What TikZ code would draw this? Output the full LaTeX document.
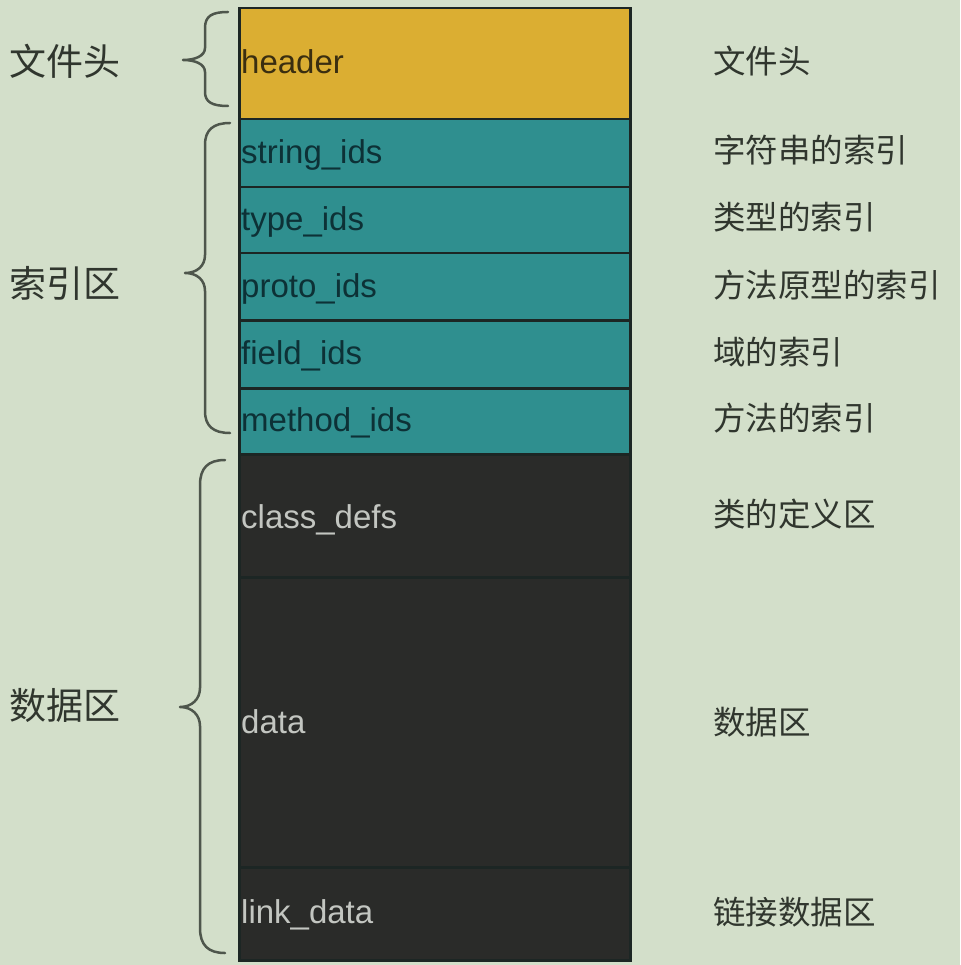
\documentclass[tikz,border=0pt]{standalone}
\usepackage{fontspec}
\setmainfont{Liberation Sans}
\newfontfamily\cjk{Noto Sans CJK SC}
\definecolor{bg}{HTML}{D3DFCA}
\definecolor{gold}{HTML}{DBAE32}
\definecolor{teal}{HTML}{2F8F8F}
\definecolor{darkc}{HTML}{2A2B29}
\definecolor{border}{HTML}{1C2624}
\definecolor{bracec}{HTML}{4E564C}
\definecolor{cjktext}{HTML}{30362E}
\definecolor{goldtext}{HTML}{3A2E10}
\definecolor{tealtext}{HTML}{0D3136}
\definecolor{darktext}{HTML}{C3C6C1}
\tikzset{
  rowbox/.style={draw=border, line width=2.5pt, inner sep=0pt, anchor=north west, minimum width=391pt},
  rowtext/.style={anchor=base west, inner sep=0pt, font=\fontsize{33}{36}\selectfont},
  leftlab/.style={anchor=base west, inner sep=0pt, text=cjktext, font=\cjk\fontsize{37}{40}\selectfont},
  rightlab/.style={anchor=base west, inner sep=0pt, text=cjktext, font=\cjk\fontsize{32.5}{36}\selectfont},
  bracepath/.style={draw=bracec, line width=2.5pt, line cap=round, line join=round}
}
\newcommand{\dexrow}[7]{%
  \node[rowbox, fill=#4, minimum height=#3pt-#2pt] (#1) at (238,#2) {};
  \node[rowtext, text=#6] (#1-t) at (241,#7) {#5};
}
\begin{document}
\begin{tikzpicture}[x=1pt,y=-1pt]
\fill[bg] (0,0) rectangle (960,965);
\useasboundingbox (0,0) rectangle (960,965);
% rows
\dexrow{header}{7}{118}{gold}{header}{goldtext}{74}
\dexrow{stringids}{118}{186}{teal}{string\_ids}{tealtext}{164}
\dexrow{typeids}{186}{252}{teal}{type\_ids}{tealtext}{231}
\dexrow{protoids}{252}{319}{teal}{proto\_ids}{tealtext}{298}
\dexrow{fieldids}{319}{387}{teal}{field\_ids}{tealtext}{364}
\dexrow{methodids}{387}{453}{teal}{method\_ids}{tealtext}{431}
\dexrow{classdefs}{453}{576}{darkc}{class\_defs}{darktext}{528}
\dexrow{data}{576}{866}{darkc}{data}{darktext}{733}
\dexrow{linkdata}{866}{959}{darkc}{link\_data}{darktext}{923}
% left labels
\node[leftlab] (l1) at (9,76) {文件头};
\node[leftlab] (l2) at (9,297) {索引区};
\node[leftlab] (l3) at (9,719) {数据区};
% right labels
\node[rightlab] (r1) at (713,74) {文件头};
\node[rightlab] (r2) at (713,163) {字符串的索引};
\node[rightlab] (r3) at (713,230) {类型的索引};
\node[rightlab] (r4) at (713,297) {方法原型的索引};
\node[rightlab] (r5) at (713,364) {域的索引};
\node[rightlab] (r6) at (713,430) {方法的索引};
\node[rightlab] (r7) at (713,526) {类的定义区};
\node[rightlab] (r8) at (713,734) {数据区};
\node[rightlab] (r9) at (713,924) {链接数据区};
% braces
\draw[bracepath] (228,12) .. controls (212,12) and (205,16) .. (205,28) -- (205,48)
  .. controls (205,56) and (195,60) .. (183,60)
  .. controls (195,60) and (205,64) .. (205,72) -- (205,92)
  .. controls (205,102) and (212,106) .. (228,106);
\draw[bracepath] (230,123) .. controls (213,123) and (205,130) .. (205,145) -- (205,255)
  .. controls (205,266) and (197,273) .. (185,273)
  .. controls (197,273) and (205,280) .. (205,291) -- (205,411)
  .. controls (205,426) and (213,433) .. (230,433);
\draw[bracepath] (225,460) .. controls (208,460) and (200,468) .. (200,485) -- (200,688)
  .. controls (200,699) and (192,707) .. (180,707)
  .. controls (192,707) and (200,715) .. (200,726) -- (200,928)
  .. controls (200,945) and (208,953) .. (225,953);
\end{tikzpicture}
\end{document}
